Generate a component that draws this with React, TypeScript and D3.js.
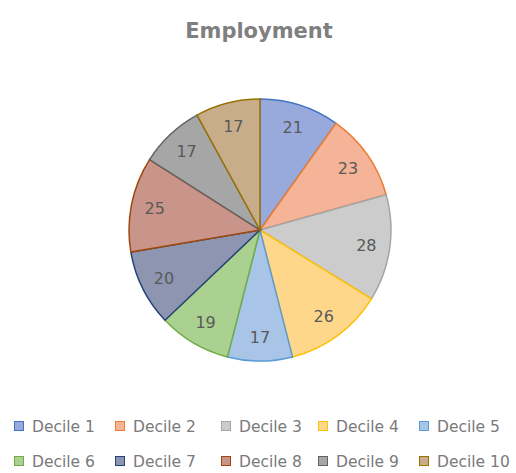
import React from 'react';
import * as d3 from 'd3';

const categories = ['Decile 1', 'Decile 2', 'Decile 3', 'Decile 4', 'Decile 5', 'Decile 6', 'Decile 7', 'Decile 8', 'Decile 9', 'Decile 10'];
const values = [21, 23, 28, 26, 17, 19, 20, 25, 17, 17];
const strokes = ['#4472C4', '#ED7D31', '#A5A5A5', '#FFC000', '#5B9BD5', '#70AD47', '#264478', '#9E480E', '#636363', '#997300'];
const fills = ['#98aadc', '#f5b497', '#cccccc', '#fed78a', '#a8c5e8', '#aad18f', '#8d95b0', '#c9948a', '#a6a6a6', '#c8ad8b'];

const width = 516;
const height = 473;
const font = "'DejaVu Sans', Verdana, sans-serif";

export default function App() {
  const cx = 260;
  const cy = 230;
  const radius = 131;

  const pie = d3.pie<number>().sort(null).value(d => d);
  const arcs = pie(values);
  const arc = d3.arc<d3.PieArcDatum<number>>().innerRadius(0).outerRadius(radius);
  const labelArc = d3.arc<d3.PieArcDatum<number>>().innerRadius(radius * 0.82).outerRadius(radius * 0.82);

  // legend: two rows of five
  const colX = [14, 115, 221, 318, 419];
  const rowY = [427, 462];

  return (
    <svg width={width} height={height} style={{ position: 'absolute', left: 0, top: 0 }} fontFamily={font}>
      <rect width={width} height={height} fill="#fff" />
      <text x={259} y={38} textAnchor="middle" fontSize={21} fontWeight="bold" fill="#7f7f7f">
        Employment
      </text>
      <g transform={`translate(${cx},${cy})`}>
        {arcs.map((a, i) => (
          <path key={i} d={arc(a) || ''} fill={fills[i]} stroke={strokes[i]} strokeWidth={1.5} />
        ))}
        {arcs.map((a, i) => {
          const [x, y] = labelArc.centroid(a);
          return (
            <text key={i} x={x} y={y} dy="0.35em" textAnchor="middle" fontSize={16} fill="#595959">
              {values[i]}
            </text>
          );
        })}
      </g>
      {categories.map((c, i) => {
        const x = colX[i % 5];
        const y = rowY[Math.floor(i / 5)];
        return (
          <g key={c}>
            <rect x={x + 0.5} y={y - 5.5} width={9} height={9} fill={fills[i]} stroke={strokes[i]} strokeWidth={1} />
            <text x={x + 18} y={y} dy="0.35em" fontSize={15.5} fill="#7a7a7a">
              {c}
            </text>
          </g>
        );
      })}
    </svg>
  );
}
